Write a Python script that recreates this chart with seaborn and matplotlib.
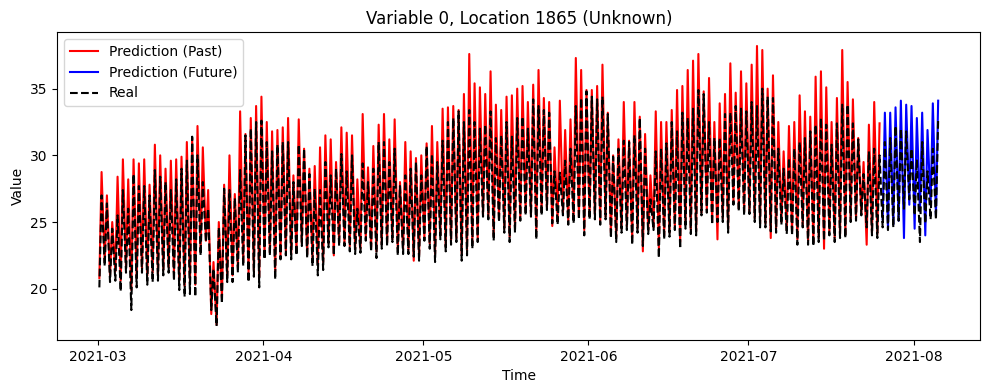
import numpy as np
import pandas as pd
import matplotlib
matplotlib.use("Agg")
import matplotlib.pyplot as plt
import seaborn as sns

start = "2021-03-01"

# daily trough / peak of the observed series, 2021-03-01 .. 2021-08-05
real_lo = [20.1, 21.7, 20.5, 20.6, 19.8, 21.2, 18.4, 20.1, 21.2, 20.3, 20.5, 20.6, 21.0,
           21.2, 20.6, 19.9, 19.4, 19.6, 19.4, 22.5, 23.5, 18.4, 17.2, 18.9, 20.5, 20.5,
           21.2, 21.7, 20.5, 20.9, 20.1, 22.2, 22.5, 20.7, 22.2, 22.5, 22.2, 22.5, 23.2,
           22.3, 21.7, 21.0, 21.4, 23.1, 22.5, 23.2, 23.2, 22.8, 22.6, 22.7, 23.6, 22.8,
           22.3, 23.0, 23.2, 23.5, 22.5, 22.6, 22.6, 22.4, 22.1, 23.6, 23.0, 22.0, 23.7,
           22.8, 23.3, 23.5, 22.1, 22.5, 23.0, 23.5, 25.4, 25.2, 23.6, 25.0, 24.2,
           23.5, 24.2, 25.1, 25.5, 25.4, 23.7, 25.5, 25.9, 24.9, 24.8, 25.5, 24.8, 24.9,
           25.2, 24.0, 25.2, 25.2, 24.8, 25.2, 23.8, 23.5, 24.2, 24.4, 23.3, 24.2, 23.2,
           24.1, 24.4, 22.3, 23.7, 23.9, 24.4, 23.0, 24.5, 24.1, 24.0, 25.5, 25.7, 24.8,
           25.0, 25.0, 24.2, 26.3, 25.8, 25.5, 25.6, 25.0, 24.6, 24.6, 24.3, 24.2, 24.8,
           24.1, 24.0, 23.3, 24.6, 23.3, 23.2, 23.5, 23.6, 24.0, 23.5, 23.8, 23.8, 25.0,
           25.1, 25.5, 24.6, 24.0, 23.8,
           24.6, 24.4, 24.6, 25.1, 26.0, 26.7, 25.5, 23.5, 24.9, 25.2, 25.2]
real_hi = [27.0, 26.4, 24.5, 25.5, 27.4, 26.0, 28.6, 27.7, 27.7, 27.0, 28.9, 28.4, 28.0,
           27.4, 28.2, 29.0, 29.6, 31.4, 30.0, 28.0, 26.0, 21.5, 24.6, 27.5, 27.4, 26.8,
           28.9, 31.5, 32.0, 32.5, 32.6, 31.0, 30.3, 30.8, 31.0, 31.0, 28.0, 30.8, 30.5,
           28.6, 27.5, 27.4, 29.5, 28.5, 29.0, 30.1, 28.8, 30.0, 26.0, 29.4, 28.0, 29.0,
           31.0, 31.0, 29.5, 30.5, 27.7, 28.5, 29.0, 29.5, 28.5, 30.7, 30.1, 29.5, 31.1,
           32.5, 32.8, 33.3, 32.5, 33.4, 32.5, 32.0, 32.3, 33.3, 31.3, 31.5, 32.5,
           31.4, 32.8, 32.9, 32.0, 34.2, 33.7, 33.4, 33.2, 28.8, 28.7, 29.6, 30.5, 33.7,
           34.3, 34.8, 34.4, 34.2, 34.4, 33.1, 29.9, 30.5, 31.1, 31.0, 31.5, 32.8, 30.5,
           26.7, 30.3, 30.5, 30.9, 32.5, 31.8, 33.2, 32.8, 33.5, 34.9, 34.6, 32.5, 31.3,
           31.3, 33.1, 33.2, 33.7, 33.5, 33.3, 34.0, 33.7, 35.0, 34.4, 34.3, 30.5, 29.0,
           29.8, 30.5, 31.0, 31.3, 31.8, 32.3, 32.8, 32.3, 30.8, 32.4, 33.8, 33.8, 32.4,
           31.2, 28.6, 30.3, 30.5, 30.0,
           31.0, 31.3, 32.2, 32.0, 31.8, 30.5, 29.7, 31.0, 28.8, 30.5, 32.7]

# model output on the past, 2021-03-01 .. 2021-07-26
pred_lo = [20.8, 22.0, 21.0, 21.3, 20.6, 21.6, 19.9, 20.8, 21.5, 21.0, 21.2, 21.1, 21.4,
           21.6, 21.2, 20.6, 20.2, 20.4, 20.3, 22.8, 23.6, 18.1, 17.3, 19.3, 21.0, 21.0,
           21.6, 22.0, 21.2, 21.4, 20.9, 22.4, 22.7, 21.3, 22.5, 22.8, 22.6, 22.9, 23.4,
           22.6, 22.3, 21.8, 22.0, 23.4, 22.5, 23.5, 23.4, 23.2, 23.0, 23.0, 23.8, 23.1,
           22.8, 23.3, 23.5, 23.7, 23.0, 23.0, 22.9, 22.1, 22.5, 23.8, 23.4, 22.6, 24.0,
           23.2, 23.6, 23.8, 22.6, 22.9, 23.4, 23.8, 25.5, 25.4, 24.0, 25.2, 24.5,
           23.9, 24.6, 25.4, 25.8, 25.6, 24.3, 25.8, 26.1, 24.7, 25.1, 25.7, 25.1, 25.2,
           25.4, 24.4, 25.4, 25.5, 25.1, 25.4, 24.2, 23.9, 24.5, 24.7, 23.8, 24.5, 22.8,
           24.4, 24.6, 23.0, 24.0, 24.2, 24.6, 23.5, 24.8, 24.4, 24.3, 25.7, 25.9, 25.0,
           23.7, 25.3, 24.5, 26.5, 26.0, 25.8, 25.8, 25.3, 24.9, 24.9, 23.8, 24.5, 25.0,
           24.4, 24.3, 23.7, 24.8, 23.6, 23.5, 23.8, 23.0, 24.3, 23.8, 24.0, 24.1, 25.2,
           25.3, 25.6, 23.3, 24.2, 24.1]
pred_hi = [28.75, 27.0, 25.0, 28.4, 29.7, 28.2, 29.7, 29.4, 29.7, 27.8, 30.8, 30.0, 29.0,
           29.6, 29.7, 29.9, 31.0, 31.3, 32.2, 30.6, 27.4, 22.0, 25.0, 27.8, 30.0, 27.1,
           33.3, 31.6, 32.8, 33.7, 34.4, 32.5, 31.8, 31.9, 32.1, 32.8, 28.5, 32.7, 30.5,
           29.0, 29.2, 30.6, 31.5, 31.2, 29.5, 32.1, 31.7, 31.5, 28.2, 33.1, 29.1, 30.7,
           32.3, 33.1, 31.2, 32.7, 28.0, 31.0, 30.3, 29.8, 30.0, 30.9, 32.2, 31.0, 33.5,
           33.6, 33.7, 33.4, 34.6, 37.6, 35.4, 35.1, 34.6, 36.3, 33.8, 33.4, 34.4,
           34.5, 35.0, 35.2, 34.0, 35.3, 36.4, 34.3, 34.0, 30.6, 34.1, 31.9, 32.7, 37.3,
           36.4, 34.9, 34.9, 35.2, 36.8, 33.2, 30.0, 31.2, 34.0, 31.1, 34.0, 32.9, 31.6,
           28.5, 33.3, 32.5, 32.5, 33.4, 34.9, 35.2, 36.4, 37.1, 37.6, 34.8, 35.8, 32.5,
           33.9, 34.6, 36.9, 34.7, 36.3, 35.4, 36.8, 38.2, 37.9, 35.0, 36.0, 32.5, 30.3,
           32.2, 32.5, 34.5, 33.3, 32.9, 35.9, 36.3, 35.1, 32.5, 34.3, 37.9, 35.5, 34.2,
           31.3, 29.5, 32.3, 34.0, 32.4]

# forecast, 2021-07-27 .. 2021-08-05
future_lo = [25.2, 24.5, 24.8, 25.1, 23.8, 26.3, 24.5, 25.8, 24.0, 26.3, 25.5]
future_hi = [33.2, 33.2, 33.6, 34.1, 33.8, 33.7, 32.8, 33.2, 31.9, 33.9, 34.1]


def daily_frame(lo, hi, first_day):
    days = pd.date_range(start, periods=len(lo), freq="D") + pd.Timedelta(days=first_day)
    times, vals = [], []
    for d, a, b in zip(days, lo, hi):
        times += [d + pd.Timedelta(hours=5), d + pd.Timedelta(hours=15)]
        vals += [a, b]
    return pd.DataFrame({"Time": times, "Value": vals})


real = daily_frame(real_lo, real_hi, 0)
past = daily_frame(pred_lo, pred_hi, 0)
future = daily_frame(future_lo, future_hi, len(pred_lo))

fig, ax = plt.subplots(figsize=(9.9, 3.9))
sns.lineplot(data=past, x="Time", y="Value", color="red", label="Prediction (Past)", ax=ax)
sns.lineplot(data=future, x="Time", y="Value", color="blue", label="Prediction (Future)", ax=ax)
sns.lineplot(data=real, x="Time", y="Value", color="black", linestyle="--", label="Real", ax=ax)
ax.set_title("Variable 0, Location 1865 (Unknown)")
ax.legend(loc="upper left")
fig.subplots_adjust(left=0.058, right=0.99, top=0.918, bottom=0.128)
plt.savefig("out.png", dpi=100)
